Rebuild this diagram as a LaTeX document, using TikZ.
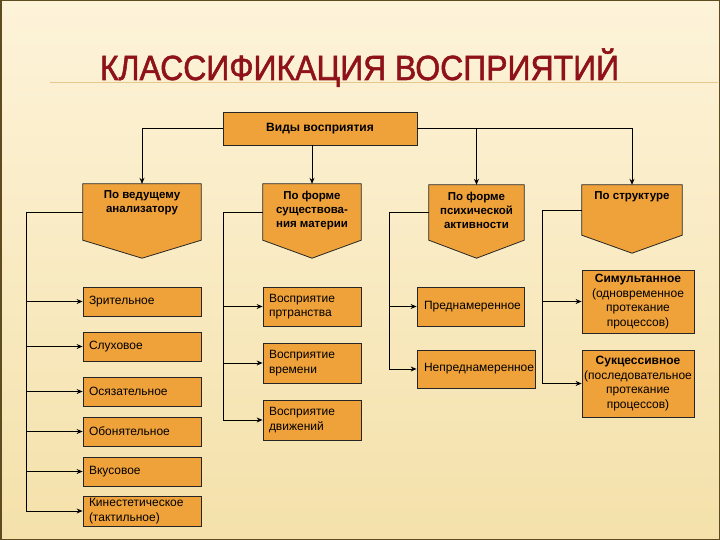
\documentclass[tikz,border=0pt]{standalone}
\usepackage{fontspec}
\setmainfont{Liberation Sans}
\newfontfamily\titlefont[BoldFont={Liberation Sans}, BoldFeatures={FakeBold=1.6}]{Liberation Sans}
\usepackage{graphicx}
\usetikzlibrary{arrows.meta,calc}

\definecolor{boxfill}{HTML}{F0A23A}
\definecolor{titlered}{HTML}{8E1218}
\definecolor{bgtop}{HTML}{FDF3D9}
\definecolor{bgbottom}{HTML}{F4E1AA}
\definecolor{framebrown}{HTML}{5E4B20}
\definecolor{ruletan}{HTML}{E6C88E}

\tikzset{
    kind/.style={draw=black!85, fill=boxfill, line width=0.8pt, inner xsep=6pt, inner ysep=2pt,
        align=left, font=\fontsize{12}{14.5}\selectfont},
    conn/.style={line width=0.9pt},
    arr/.style={conn, -{Stealth[length=6pt,width=5pt]}},
    headtext/.style={align=center, inner sep=0pt, font=\bfseries\fontsize{11.5}{14}\selectfont},
}

% header box: name, centre, width, height, tip, text
\newcommand{\headbox}[6]{
    \node[minimum width=#3, minimum height=#4, inner sep=0pt] (#1) at (#2) {};
    \draw[kind] (#1.north west) -- (#1.north east) -- (#1.south east)
        -- ($(#1.south)+(0,#5)$) -- (#1.south west) -- cycle;
    \node[headtext, anchor=north] at ($(#1.north)+(0,7)$) {#6};
}

\begin{document}
\begin{tikzpicture}[x=1pt,y=-1pt]
    \useasboundingbox (0,0) rectangle (720,540);
    % slide background
    \fill[top color=bgtop, bottom color=bgbottom] (0,0) rectangle (720,540);
    \draw[ruletan, line width=1pt] (50,83) -- (718,83);
    \draw[framebrown, line width=1.5pt] (0.75,0.75) rectangle (719.25,539.25);

    % title
    \node[anchor=base, inner sep=0pt, text=titlered] (title) at (359.5,80)
        {\resizebox{519pt}{\height}{\titlefont\bfseries\fontsize{35}{35}\selectfont КЛАССИФИКАЦИЯ ВОСПРИЯТИЙ}};

    % root
    \node[kind, minimum width=194, minimum height=33, align=center,
        font=\bfseries\fontsize{12}{14}\selectfont] (top) at (320,128.5) {Виды восприятия};

    % four headers
    \headbox{h1}{142,212}{118}{56}{18}{По ведущему\\анализатору}
    \headbox{h2}{312,212}{98}{56}{18}{По форме\\существова-\\ния материи}
    \headbox{h3}{476.5,212.5}{95}{55}{18}{По форме\\психической\\активности}
    \headbox{h4}{632,210}{100}{50}{18}{По структуре}

    \draw[arr] (top.west) -| (h1.north);
    \draw[arr] (top.south -| h2.north) -- (h2.north);
    \draw[arr] (top.east) -| (h3.north);
    \draw[arr] (top.east) -| (h4.north);

    % by analyser
    \node[kind, text width=106pt, minimum height=29] (k1) at (142,301.5) {Зрительное};
    \node[kind, text width=106pt, minimum height=29] (k2) at (142,346.5) {Слуховое};
    \node[kind, text width=106pt, minimum height=29] (k3) at (142,391.5) {Осязательное};
    \node[kind, text width=106pt, minimum height=29] (k4) at (142,431.5) {Обонятельное};
    \node[kind, text width=106pt, minimum height=29] (k5) at (142,471.5) {Вкусовое};
    \node[kind, text width=106pt, minimum height=30] (k6) at (142,511) {Кинестетическое\\(тактильное)};
    \coordinate (b1) at (26,0);
    \draw[conn] (h1.west) -| (b1 |- k6.west);
    \foreach \k in {k1,k2,k3,k4,k5,k6}
        \draw[arr] (b1 |- \k.west) -- (\k.west);

    % by form of matter
    \node[kind, text width=86pt, minimum height=39] (m1) at (312,306.5) {Восприятие\\пртранства};
    \node[kind, text width=86pt, minimum height=40] (m2) at (312,363) {Восприятие\\времени};
    \node[kind, text width=86pt, minimum height=40] (m3) at (312,420) {Восприятие\\движений};
    \coordinate (b2) at (223,0);
    \draw[conn] (h2.west) -| (b2 |- m3.west);
    \foreach \k in {m1,m2,m3}
        \draw[arr] (b2 |- \k.west) -- (\k.west);

    % by mental activity
    \node[kind, inner xsep=3pt, text width=101pt, minimum height=39] (p1) at (470.5,306.5) {\hspace*{4pt}Преднамеренное};
    \node[kind, inner xsep=3pt, text width=112pt, minimum height=38] (p2) at (476,369) {\hspace*{4pt}Непреднамеренное};
    \coordinate (b3) at (389,0);
    \draw[conn] (h3.west) -| (b3 |- p2.west);
    \foreach \k in {p1,p2}
        \draw[arr] (b3 |- \k.west) -- (\k.west);

    % by structure
    \node[kind, inner xsep=2pt, text width=108pt, align=center, minimum height=63] (s1) at (638,301.5)
        {\textbf{Симультанное}\\(одновременное\\протекание\\процессов)};
    \node[kind, inner xsep=2pt, text width=108pt, align=center, minimum height=67] (s2) at (638,383.5)
        {\textbf{Сукцессивное}\\(последовательное\\протекание\\процессов)};
    \coordinate (b4) at (542,0);
    \draw[conn] (h4.west) -| (b4 |- s2.west);
    \foreach \k in {s1,s2}
        \draw[arr] (b4 |- \k.west) -- (\k.west);
\end{tikzpicture}
\end{document}
